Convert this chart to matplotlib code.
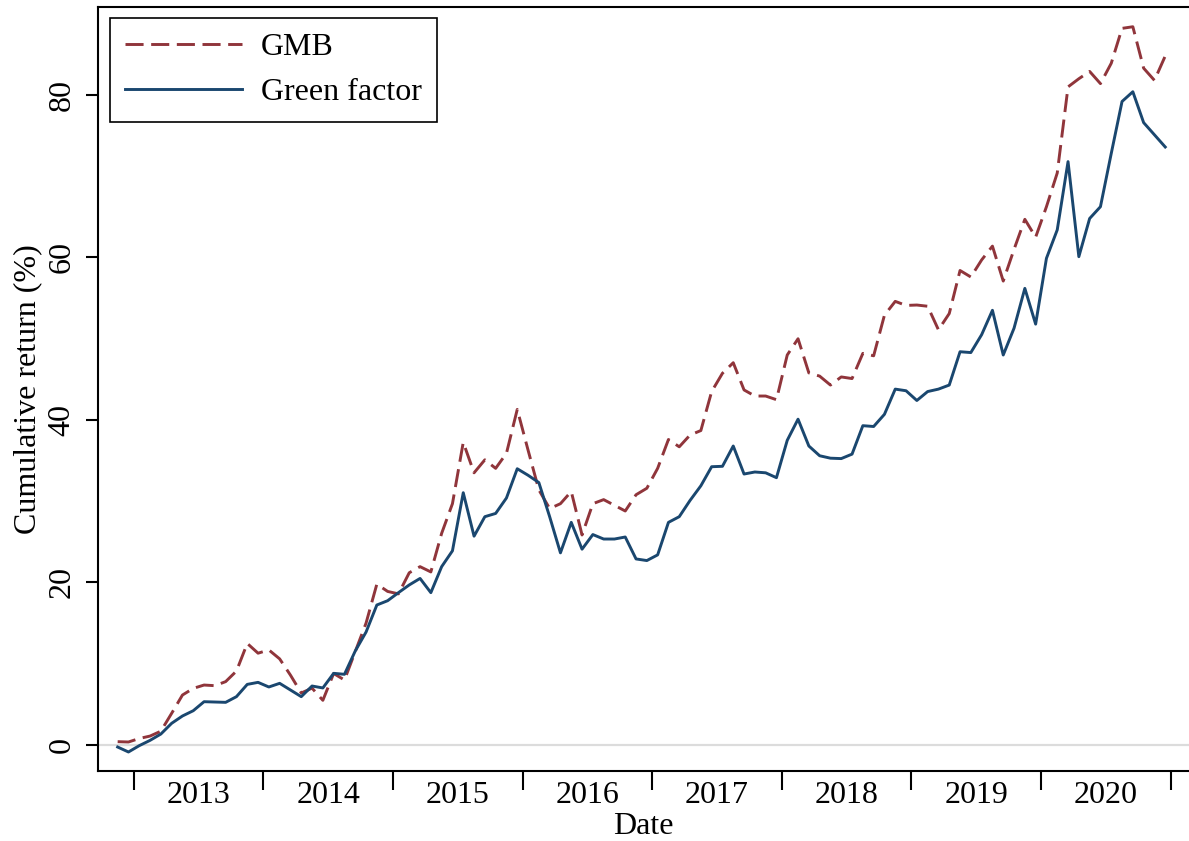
import matplotlib
matplotlib.use("Agg")
import matplotlib.pyplot as plt
import numpy as np

plt.rcParams['font.family'] = ['Liberation Serif', 'DejaVu Serif']

# Monthly observations, Nov 2012 .. Dec 2020 (month index 0..97)
start_year, start_month = 2012, 11
gmb = [0.41, 0.37, 0.8, 1.1, 1.7, 3.9, 6.15, 6.97, 7.38, 7.3,
       7.8, 9.1, 12.5, 11.3, 11.7, 10.6, 8.6, 6.4, 7.0, 5.5,
       8.8, 8.0, 11.5, 15.0, 19.8, 18.9, 18.6, 21.2, 21.95, 21.3,
       26.05, 29.7, 37.25, 33.5, 35.1, 34.05, 35.9, 41.3, 36.3, 31.4,
       29.1, 29.7, 31.2, 25.85, 29.7, 30.2, 29.5, 28.8, 30.8, 31.6,
       34.05, 37.6, 36.7, 38.15, 38.7, 43.5, 45.75, 47.05, 43.7, 42.95,
       42.95, 42.5, 48.0, 50.0, 45.8, 45.4, 44.3, 45.3, 45.1, 48.2,
       47.9, 52.9, 54.6, 54.1, 54.15, 54.0, 51.1, 53.1, 58.4, 57.6,
       59.7, 61.4, 57.1, 61.0, 64.7, 62.5, 66.25, 70.4, 81.0, 82.0,
       82.9, 81.4, 83.9, 88.2, 88.4, 83.3, 81.8, 84.8]
green = [-0.25, -0.86, -0.08, 0.57, 1.35, 2.67, 3.57, 4.22, 5.33, 5.29,
         5.25, 5.95, 7.46, 7.71, 7.14, 7.59, 6.77, 5.95, 7.26, 7.02,
         8.82, 8.70, 11.57, 13.9, 17.23, 17.76, 18.75, 19.7, 20.5, 18.75,
         21.95, 23.9, 31.05, 25.7, 28.1, 28.5, 30.4, 34.0, 33.2, 32.3,
         28.1, 23.65, 27.4, 24.1, 25.9, 25.35, 25.35, 25.6, 22.9, 22.7,
         23.4, 27.4, 28.1, 30.1, 31.9, 34.25, 34.3, 36.8, 33.35, 33.6,
         33.5, 32.9, 37.5, 40.1, 36.8, 35.6, 35.3, 35.25, 35.8, 39.3,
         39.2, 40.7, 43.8, 43.6, 42.4, 43.5, 43.8, 44.3, 48.4, 48.3,
         50.5, 53.5, 48.0, 51.3, 56.2, 51.8, 59.9, 63.4, 71.8, 60.1,
         64.8, 66.25, 72.8, 79.2, 80.4, 76.6, 75.1, 73.6]
years = ['2013', '2014', '2015', '2016', '2017', '2018', '2019', '2020']
yticks = [0, 20, 40, 60, 80]

t = np.arange(len(gmb))
first_jan = (12 - start_month) + 1  # index of Jan 2013
year_bounds = [first_jan - 0.5 + 12 * k for k in range(len(years) + 1)]
year_centers = [first_jan + 5.5 + 12 * k for k in range(len(years))]

W, H = 1189, 841
FS = 23
fig = plt.figure(figsize=(W / 100, H / 100), dpi=100)
ax = fig.add_axes([98 / W, (H - 771) / H, (W - 98) / W, (771 - 7) / H])

maroon = '#90353B'
navy = '#1A476F'

ax.axhline(0, color='#DCDCDC', lw=1.6, zorder=1)
ax.plot(t, gmb, color=maroon, lw=2.1, dashes=(6.2, 2.6), label='GMB', zorder=3)
ax.plot(t, green, color=navy, lw=2.1, label='Green factor', zorder=3)

ax.set_xlim(-1.82, 99.2)
ax.set_ylim(-3.2, 90.83)

for s in ['left', 'bottom', 'top']:
    ax.spines[s].set_linewidth(1.5)
    ax.spines[s].set_color('black')
ax.spines['right'].set_visible(False)

ax.set_yticks(yticks)
ax.set_yticklabels([str(v) for v in yticks], rotation=90, va='center', fontsize=FS)
ax.tick_params(axis='y', length=8.6, width=1.5, pad=7)

ax.set_xticks(year_bounds)
ax.set_xticklabels([])
ax.tick_params(axis='x', which='major', length=13.7, width=1.5)
ax.set_xticks(year_centers, minor=True)
ax.set_xticklabels(years, minor=True, fontsize=FS)
ax.tick_params(axis='x', which='minor', length=0, pad=7)

ax.set_xlabel('Date', fontsize=FS)
ax.xaxis.label.set_va('center')
ax.xaxis.set_label_coords(0.5, (771 - 826) / 764)
ax.set_ylabel('Cumulative return (%)', fontsize=FS)
ax.yaxis.label.set_va('center')
ax.yaxis.set_label_coords((28 - 98) / 1091, 0.5)

leg = ax.legend(loc='upper left', bbox_to_anchor=(110 / W, 1 - 18 / H),
                bbox_transform=fig.transFigure, borderaxespad=0,
                fontsize=FS, handlelength=3.65, handletextpad=0.6,
                labelspacing=0.48, borderpad=0.47, fancybox=False,
                framealpha=1, edgecolor='black')
leg.get_frame().set_linewidth(1.2)

fig.savefig('out.png', dpi=100)
